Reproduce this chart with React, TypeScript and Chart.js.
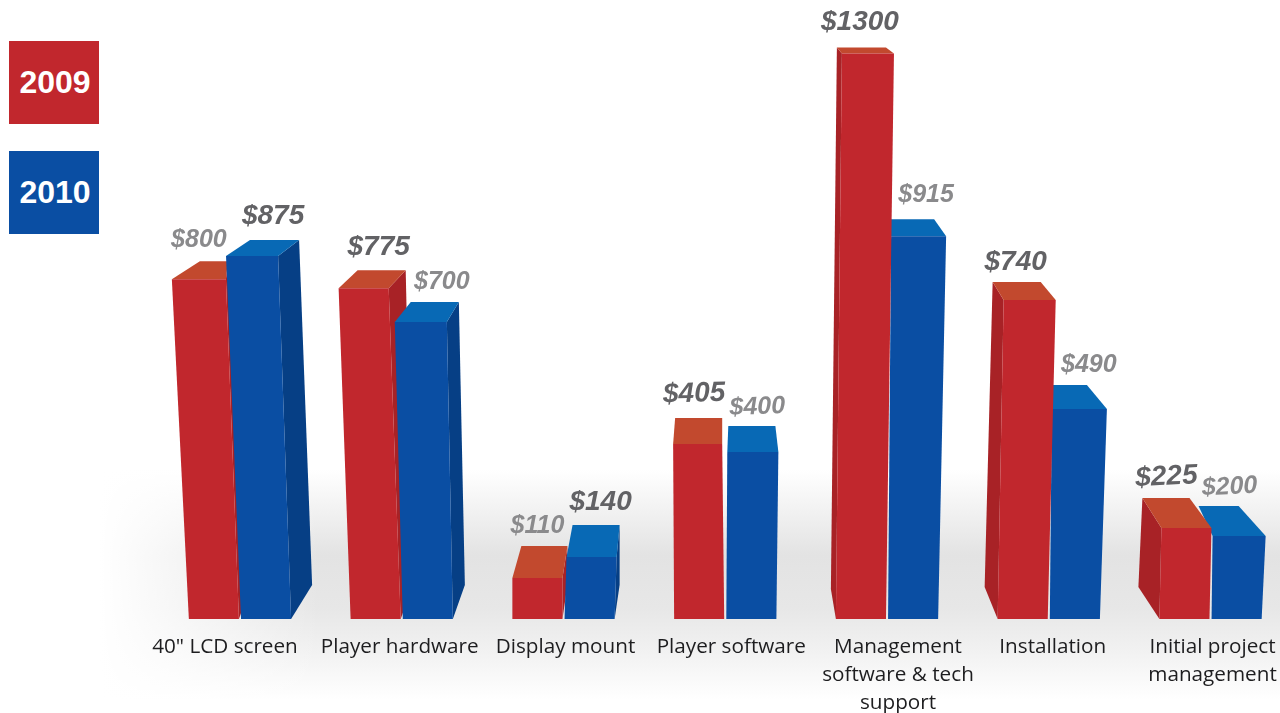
import React, { useEffect, useRef } from "react";
import { Chart, registerables } from "chart.js";

Chart.register(...registerables);

// ---- data ----
const categories = [
  ['40" LCD screen'],
  ["Player hardware"],
  ["Display mount"],
  ["Player software"],
  ["Management", "software & tech", "support"],
  ["Installation"],
  ["Initial project", "management"],
];
const values2009 = [800, 775, 110, 405, 1300, 740, 225];
const values2010 = [875, 700, 140, 400, 915, 490, 200];
const seriesNames = ["2009", "2010"];

// ---- style of the 3D projection, per bar: [2009, 2010] for each category ----
const RED = "#c1272d";
const BLUE = "#0a4ea3";
const topColors = ["#c2492e", "#0869b5"];
const sideColors = ["#a82226", "#063f85"];
const leanLeft = [[-17, -15], [-12, -8], [0, 2], [-1, 1], [6, 3], [6, 2], [2, 1]];
const leanRight = [[-13, -13], [-12, -6], [0, 2], [-2, 2], [8, 8], [8, 7], [2, 4]];
const backLeft = [[28, 24], [19, 16], [9, 6], [2, 1], [-5, -2], [-11, 0], [-19, -14]];
const backRight = [[2, 21], [17, 12], [5, 3], [0, -3], [-8, -12], [-15, -20], [-22, -27]];
const backRise = [[18, 16], [18, 20], [32, 32], [26, 26], [6, 17], [18, 24], [30, 30]];
const sideFace = [["R", "R"], ["R", "R"], ["R", "R"], ["", ""], ["L", ""], ["L", ""], ["L", ""]];
const sideDx = [[12, 21], [12, 12], [5, 5], [0, 0], [-5, 0], [-13, 0], [-21, 0]];
const sideDy = [[-34, -34], [-34, -34], [-34, -34], [0, 0], [-30, 0], [-32, 0], [-32, 0]];
const foreshorten = [[0.988, 0.965], [0.993, 0.987], [0.867, 1.03], [1.005, 0.971], [1.012, 0.973], [1.003, 0.997], [0.94, 0.965]];
const redOnTop = [false, false, false, false, true, true, true];
const labelDx = [[-15, 7], [3, 14], [0, 11], [-5, 6], [-1, 13], [-7, 14], [-18, -7]];
const labelDy = [[-39, -40], [-41, -40], [-52, -55], [-50, -45], [-31, -41], [-38, -44], [-51, -49]];
const labelTilt = [[0, 0], [0, 0], [0, 0], [-2, -2], [0, 0], [0, 0], [-3, -3]];
const tickDx = [-15, -2, 2, 6, 11, 4, 2];

const poly = (ctx: CanvasRenderingContext2D, color: string, pts: number[][]) => {
  ctx.fillStyle = color;
  ctx.beginPath();
  pts.forEach(([x, y], i) => (i ? ctx.lineTo(x, y) : ctx.moveTo(x, y)));
  ctx.closePath();
  ctx.fill();
};

const backdrop = {
  id: "backdrop",
  beforeDraw(chart: any) {
    const { ctx, width } = chart;
    ctx.save();
    const v = ctx.createLinearGradient(0, 470, 0, 700);
    v.addColorStop(0, "#ffffff");
    v.addColorStop(0.37, "#e3e3e3");
    v.addColorStop(0.6, "#e7e7e7");
    v.addColorStop(0.78, "#f1f1f1");
    v.addColorStop(1, "#ffffff");
    ctx.fillStyle = v;
    ctx.fillRect(0, 470, width, 230);
    const h = ctx.createLinearGradient(100, 0, 320, 0);
    h.addColorStop(0, "rgba(255,255,255,1)");
    h.addColorStop(1, "rgba(255,255,255,0)");
    ctx.fillStyle = h;
    ctx.fillRect(0, 470, 320, 230);
    ctx.restore();
  },
};

const bars3d = {
  id: "bars3d",
  beforeDatasetsDraw() {
    return false; // the standard flat rectangles are replaced by the 3D bars below
  },
  afterDraw(chart: any) {
    const { ctx } = chart;
    const metas = [chart.getDatasetMeta(0), chart.getDatasetMeta(1)];
    const drawBar = (c: number, s: number) => {
      const el = metas[s].data[c];
      const half = el.width / 2;
      const L = el.x - half;
      const R = el.x + half;
      const B = el.base;
      const T = B - (B - el.y) * foreshorten[c][s];
      const tl = L + leanLeft[c][s];
      const tr = R + leanRight[c][s];
      const rise = T - backRise[c][s];
      const bl = tl + backLeft[c][s];
      const br = tr + backRight[c][s];
      const side = sideFace[c][s];
      if (side === "R") {
        poly(ctx, sideColors[s], [[tr, T], [br, rise], [R + sideDx[c][s], B + sideDy[c][s]], [R, B]]);
      } else if (side === "L") {
        poly(ctx, sideColors[s], [[tl, T], [bl, rise], [L + sideDx[c][s], B + sideDy[c][s]], [L, B]]);
      }
      poly(ctx, topColors[s], [[tl, T], [bl, rise], [br, rise], [tr, T]]);
      poly(ctx, el.options.backgroundColor, [[tl, T], [tr, T], [R, B], [L, B]]);
    };
    ctx.save();
    categories.forEach((_, c) => {
      const order = redOnTop[c] ? [1, 0] : [0, 1];
      order.forEach((s) => drawBar(c, s));
    });
    // value labels: the larger value of each pair is the larger, darker one
    ctx.textAlign = "center";
    ctx.textBaseline = "middle";
    categories.forEach((_, c) => {
      const pair = [values2009[c], values2010[c]];
      const big = pair[0] >= pair[1] ? 0 : 1;
      [0, 1].forEach((s) => {
        const el = metas[s].data[c];
        const T = el.base - (el.base - el.y) * foreshorten[c][s];
        ctx.save();
        ctx.translate(el.x + labelDx[c][s], T + labelDy[c][s]);
        ctx.rotate((labelTilt[c][s] * Math.PI) / 180);
        ctx.font = `italic bold ${s === big ? 28 : 25}px "Liberation Sans"`;
        ctx.fillStyle = s === big ? "#626265" : "#8a8a8c";
        ctx.fillText("$" + pair[s], 0, 0);
        ctx.restore();
      });
    });
    // category labels, under the groups
    const x = chart.scales.x;
    ctx.font = '20.7px "Open Sans"';
    ctx.fillStyle = "#1d1d1f";
    categories.forEach((lines, c) => {
      lines.forEach((line, i) => {
        ctx.fillText(line, x.getPixelForTick(c) + tickDx[c], 647 + i * 28);
      });
    });
    ctx.restore();
  },
};

const legendBox = (top: number, color: string, text: string) => (
  <div
    key={text}
    style={{
      position: "absolute",
      left: 9,
      top,
      width: 90,
      height: 83,
      paddingLeft: 2,
      boxSizing: "border-box",
      background: color,
      color: "#fff",
      font: 'bold 32px "Liberation Sans"',
      lineHeight: "83px",
      textAlign: "center",
    }}
  >
    {text}
  </div>
);

export default function App() {
  const ref = useRef<HTMLCanvasElement>(null);
  useEffect(() => {
    const chart = new Chart(ref.current as HTMLCanvasElement, {
      type: "bar",
      data: {
        labels: categories,
        datasets: [
          { label: seriesNames[0], data: values2009, backgroundColor: RED, borderWidth: 0 },
          { label: seriesNames[1], data: values2010, backgroundColor: BLUE, borderWidth: 0 },
        ],
      },
      plugins: [backdrop, bars3d],
      options: {
        responsive: false,
        animation: false,
        layout: { padding: { left: 159.1, right: 28.6, top: 0, bottom: 94 } },
        plugins: { legend: { display: false }, tooltip: { enabled: false }, title: { display: false } },
        datasets: { bar: { categoryPercentage: 0.645, barPercentage: 0.96 } },
        scales: {
          x: { display: false, grid: { display: false } },
          y: { display: false, min: 0, max: 1440, grid: { display: false } },
        },
      },
    } as any);
    return () => chart.destroy();
  }, []);
  return (
    <div style={{ position: "fixed", left: 0, top: 0, width: 1280, height: 713, overflow: "hidden", background: "#fff" }}>
      <canvas ref={ref} width={1320} height={713} style={{ display: "block" }} />
      {legendBox(41, RED, seriesNames[0])}
      {legendBox(151, BLUE, seriesNames[1])}
    </div>
  );
}
